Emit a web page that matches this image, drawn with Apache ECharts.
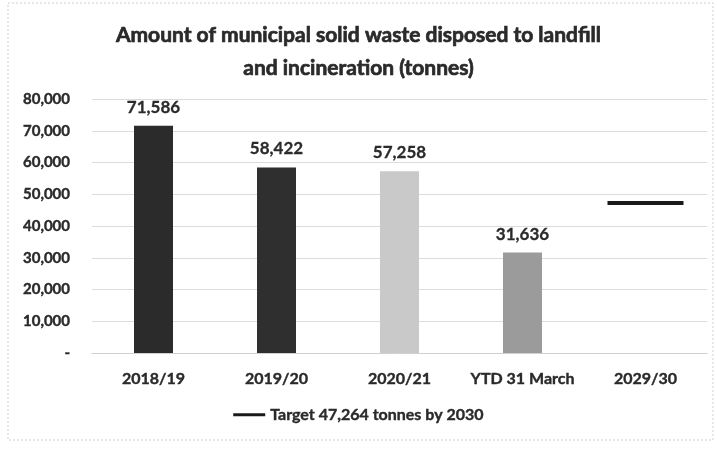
<!DOCTYPE html>
<html>
<head>
<meta charset="utf-8">
<script src="https://cdn.jsdelivr.net/npm/echarts@6/dist/echarts.min.js"></script>
<style>
  html, body { margin: 0; padding: 0; background: #fff; }
  #main { width: 717px; height: 450px; }
</style>
</head>
<body>
<div id="main"></div>
<script>
var chartDom = document.getElementById('main');
var myChart = echarts.init(chartDom);
var option;

// data
const categories = ['2018/19', '2019/20', '2020/21', 'YTD 31 March', '2029/30'];
const wasteTonnes = [71586, 58422, 57258, 31636, '-'];
const targetTonnes = ['-', '-', '-', '-', 47264];
const yTicks = [0, 10000, 20000, 30000, 40000, 50000, 60000, 70000, 80000];

const barColors = ['#2b2b2b', '#2f2f2f', '#c9c9c9', '#9b9b9b', '#ffffff'];
const fontFam = 'Lato, "Open Sans", sans-serif';
const ink = '#2a2a2a';

function fmt(v) {
    if (v === 0) return '-';
    return v.toLocaleString('en-US');
}

option = {
    backgroundColor: '#fff',
    title: {
        text: 'Amount of municipal solid waste disposed to landfill\nand incineration (tonnes)',
        left: 'center',
        top: 14,
        textStyle: {
            fontFamily: fontFam,
            fontWeight: 'bold',
            fontSize: 21,
            color: ink,
            lineHeight: 33,
            textBorderColor: ink,
            textBorderWidth: 0.7
        }
    },
    legend: {
        data: ['Target 47,264 tonnes by 2030'],
        bottom: 22,
        left: 'center',
        itemWidth: 32,
        itemHeight: 3,
        itemGap: 2,
        icon: 'rect',
        textStyle: {
            fontFamily: fontFam, fontWeight: 'bold', fontSize: 16, color: ink,
            textBorderColor: ink, textBorderWidth: 0.4
        }
    },
    grid: {
        left: 92,
        right: 10,
        top: 99,
        bottom: 97
    },
    xAxis: {
        type: 'category',
        data: categories,
        axisTick: { show: false },
        axisLine: { lineStyle: { color: '#d0d0d0', width: 1 } },
        axisLabel: {
            interval: 0,
            margin: 18,
            fontFamily: fontFam,
            fontWeight: 'bold',
            fontSize: 16,
            color: ink,
            textBorderColor: ink,
            textBorderWidth: 0.4
        }
    },
    yAxis: {
        type: 'value',
        min: yTicks[0],
        max: yTicks[yTicks.length - 1],
        interval: 10000,
        axisLine: { show: false },
        axisTick: { show: false },
        splitLine: { lineStyle: { color: '#dcdcdc' } },
        axisLabel: {
            margin: 22,
            fontFamily: fontFam,
            fontWeight: 'bold',
            fontSize: 15,
            color: ink,
            textBorderColor: ink,
            textBorderWidth: 0.4,
            formatter: fmt
        }
    },
    series: [
        {
            name: 'Tonnes',
            type: 'bar',
            barWidth: 39,
            data: wasteTonnes.map((v, i) => ({
                value: v,
                itemStyle: { color: barColors[i] }
            })),
            label: {
                show: true,
                position: 'top',
                distance: 10,
                fontFamily: fontFam,
                fontSize: 17,
                fontWeight: 'bold',
                color: ink,
                textBorderColor: ink,
                textBorderWidth: 0.3,
                formatter: p => fmt(p.value)
            }
        },
        {
            name: 'Target 47,264 tonnes by 2030',
            type: 'line',
            data: targetTonnes,
            symbol: 'rect',
            symbolSize: [76, 4],
            itemStyle: { color: '#1a1a1a' },
            lineStyle: { color: '#1a1a1a', width: 3 },
            z: 5
        }
    ],
    graphic: [
        {
            type: 'rect',
            shape: { x: 8, y: 3, width: 705, height: 437 },
            style: { fill: 'none', stroke: '#cfcfcf', lineWidth: 1, lineDash: [2, 2] },
            silent: true
        }
    ]
};

option && myChart.setOption(option);
</script>
</body>
</html>
